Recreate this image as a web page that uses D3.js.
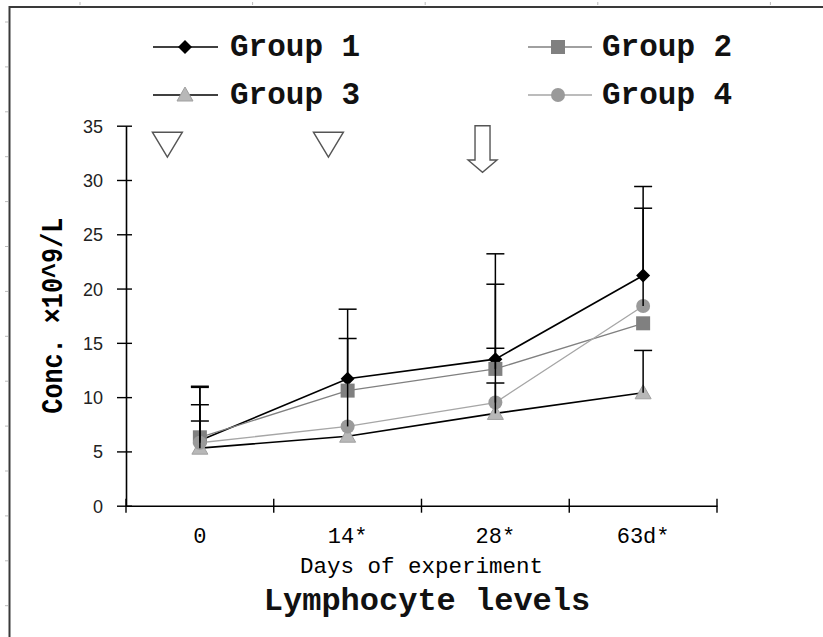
<!DOCTYPE html>
<html>
<head>
<meta charset="utf-8">
<script src="https://cdn.jsdelivr.net/npm/d3@7"></script>
<style>
  html, body { margin: 0; padding: 0; background: #fff; }
  svg { display: block; }
</style>
</head>
<body>
<svg id="chart" width="823" height="637"></svg>
<script>
// ---- data ----
const days = ["0", "14*", "28*", "63d*"];
const groupNames = ["Group 1", "Group 2", "Group 3", "Group 4"];
const group1 = [6.0, 11.7, 13.5, 21.2];
const group2 = [6.3, 10.6, 12.6, 16.8];
const group3 = [5.3, 6.4, 8.5, 10.4];
const group4 = [5.8, 7.3, 9.5, 18.4];
// upper ends of the error bars (null = none drawn)
const err1 = [10.9, 18.1, 23.2, 29.4];
const err2 = [11.0, null, 20.4, null];
const err3 = [7.8, null, 11.3, 14.3];
const err4 = [9.3, 15.4, 14.5, 27.4];
const yTicks = [0, 5, 10, 15, 20, 25, 30, 35];
const xTitle = "Days of experiment";
const yTitle = "Conc. \u00d710^9/L";
const chartTitle = "Lymphocyte levels";
// treatment markers above the plot (category, offset in band units)
const annotations = [
  { day: "0", offset: -0.22, kind: "tri" },
  { day: "14*", offset: -0.13, kind: "tri" },
  { day: "28*", offset: -0.087, kind: "arrow" }
];

const seriesValues = [group1, group2, group3, group4];
const seriesErr = [err1, err2, err3, err4];
const styles = [
  { line: "#000", lw: 1.6, shape: "diamond", fill: "#000" },
  { line: "#808080", lw: 1.3, shape: "square", fill: "#808080" },
  { line: "#000", lw: 1.6, shape: "triangle", fill: "#b8b8b8" },
  { line: "#a6a6a6", lw: 1.3, shape: "circle", fill: "#9a9a9a" }
];

const svg = d3.select("#chart");

// ---- frame (cropped screenshot border) ----
const frame = svg.append("g");
frame.append("path").attr("d", "M9.5,637 V7 H823").attr("fill", "none")
  .attr("stroke", "#3a3a3a").attr("stroke-width", 2);
d3.range(22, 637, 44.9).forEach(v => frame.append("line")
  .attr("x1", 5).attr("x2", 8).attr("y1", v).attr("y2", v)
  .attr("stroke", "#bbb").attr("stroke-width", 1));
d3.range(80, 823, 172.6).forEach(v => frame.append("line")
  .attr("x1", v).attr("x2", v).attr("y1", 2).attr("y2", 5)
  .attr("stroke", "#bbb").attr("stroke-width", 1));

// ---- scales ----
const plotL = 126, plotR = 717, plotT = 125.7, plotB = 505.7;
const x = d3.scaleBand().domain(days).range([plotL, plotR]).paddingInner(0).paddingOuter(0);
const y = d3.scaleLinear().domain([0, 35]).range([plotB, plotT]);
const cx = d => x(d) + x.bandwidth() / 2;

// ---- y axis ----
const yAxis = svg.append("g").attr("transform", `translate(${plotL},0)`)
  .call(d3.axisLeft(y).tickValues(yTicks).tickSize(9).tickPadding(14).tickSizeOuter(0));
yAxis.select(".domain").attr("stroke", "#000").attr("stroke-width", 1.6);
yAxis.selectAll(".tick line").attr("x1", 6).attr("stroke", "#000").attr("stroke-width", 1.4);
yAxis.selectAll(".tick text").attr("font-family", "'Liberation Sans', Arial, sans-serif")
  .attr("font-size", 18).attr("fill", "#222").attr("dy", "0.36em");

// ---- x axis ----
const xAxis = svg.append("g").attr("transform", `translate(0,${plotB})`)
  .call(d3.axisBottom(x).tickSize(0).tickPadding(0).tickSizeOuter(0));
xAxis.select(".domain").attr("stroke", "#000").attr("stroke-width", 1.6);
xAxis.selectAll(".tick line").remove();
xAxis.selectAll(".tick text").attr("font-family", "'Liberation Mono', monospace")
  .attr("font-size", 22).attr("fill", "#000").attr("dy", 0).attr("y", 37);
const bounds = days.map(d => x(d)).concat([x.range()[1]]);
xAxis.selectAll("line.bound").data(bounds).enter().append("line").attr("class", "bound")
  .attr("x1", d => d).attr("x2", d => d).attr("y1", -7).attr("y2", 7)
  .attr("stroke", "#000").attr("stroke-width", 1.4);

// ---- titles ----
svg.append("text").attr("x", (plotL + plotR) / 2).attr("y", 573).attr("text-anchor", "middle")
  .attr("font-family", "'Liberation Mono', monospace").attr("font-size", 22.5).attr("fill", "#000")
  .text(xTitle);
svg.append("text").attr("transform", `translate(62,${(plotT + plotB) / 2}) rotate(-90)`)
  .attr("text-anchor", "middle").attr("font-family", "'Liberation Mono', monospace")
  .attr("font-weight", "bold").attr("font-size", 30).attr("textLength", 196)
  .attr("lengthAdjust", "spacingAndGlyphs").attr("fill", "#000").text(yTitle);
svg.append("text").attr("x", 427).attr("y", 610).attr("text-anchor", "middle")
  .attr("font-family", "'Liberation Mono', monospace").attr("font-weight", "bold")
  .attr("font-size", 32).attr("fill", "#111").text(chartTitle);

// ---- annotations ----
const ann = svg.append("g");
annotations.forEach(a => {
  const ax = cx(a.day) + a.offset * x.step();
  if (a.kind === "tri") {
    const t = y(34.4), b = y(32.1);
    ann.append("path").attr("d", `M${ax - 15},${t} L${ax + 15},${t} L${ax},${b} Z`)
      .attr("fill", "#fff").attr("stroke", "#555").attr("stroke-width", 1.4);
  } else {
    const t = y(35), m = y(31.84), b = y(30.7);
    ann.append("path").attr("d",
      `M${ax - 7.5},${t} H${ax + 7.5} V${m} H${ax + 14.5} L${ax},${b} L${ax - 14.5},${m} H${ax - 7.5} Z`)
      .attr("fill", "#fff").attr("stroke", "#555").attr("stroke-width", 1.4);
  }
});

// ---- markers ----
function drawMarker(g, shape, px, py, fill) {
  if (shape === "diamond") {
    g.append("path").attr("d", `M${px},${py - 7} L${px + 7},${py} L${px},${py + 7} L${px - 7},${py} Z`).attr("fill", fill);
  } else if (shape === "square") {
    g.append("rect").attr("x", px - 7).attr("y", py - 7).attr("width", 14).attr("height", 14).attr("fill", fill);
  } else if (shape === "triangle") {
    g.append("path").attr("d", `M${px},${py - 8} L${px + 8},${py + 6} L${px - 8},${py + 6} Z`)
      .attr("fill", fill).attr("stroke", "#a0a0a0").attr("stroke-width", 1);
  } else {
    g.append("circle").attr("cx", px).attr("cy", py).attr("r", 7).attr("fill", fill);
  }
}

// ---- series lines ----
const lineGen = d3.line().x((d, i) => cx(days[i])).y(d => y(d));
const linesG = svg.append("g");
seriesValues.forEach((vals, s) => {
  linesG.append("path").datum(vals).attr("d", lineGen).attr("fill", "none")
    .attr("stroke", styles[s].line).attr("stroke-width", styles[s].lw);
});

// ---- markers ----
const markG = svg.append("g");
seriesValues.forEach((vals, s) => {
  vals.forEach((v, i) => drawMarker(markG, styles[s].shape, cx(days[i]), y(v), styles[s].fill));
});

// ---- error bars ----
const errG = svg.append("g");
seriesValues.forEach((vals, s) => {
  vals.forEach((v, i) => {
    const e = seriesErr[s][i];
    if (e == null) return;
    const px = cx(days[i]);
    errG.append("line").attr("x1", px).attr("x2", px).attr("y1", y(v)).attr("y2", y(e))
      .attr("stroke", "#000").attr("stroke-width", 1.5);
    errG.append("line").attr("x1", px - 9).attr("x2", px + 9).attr("y1", y(e)).attr("y2", y(e))
      .attr("stroke", "#000").attr("stroke-width", 1.5);
  });
});

// ---- legend ----
const legendPos = [
  { lx: 153, rx: 218, mx: 185, tx: 230, ly: 47 },
  { lx: 528, rx: 592, mx: 558, tx: 602, ly: 47 },
  { lx: 153, rx: 218, mx: 185, tx: 230, ly: 95 },
  { lx: 528, rx: 592, mx: 558, tx: 602, ly: 95 }
];
const legG = svg.append("g");
groupNames.forEach((name, s) => {
  const p = legendPos[s];
  legG.append("line").attr("x1", p.lx).attr("x2", p.rx).attr("y1", p.ly).attr("y2", p.ly)
    .attr("stroke", styles[s].line).attr("stroke-width", styles[s].lw);
  drawMarker(legG, styles[s].shape, p.mx, p.ly, styles[s].fill);
  legG.append("text").attr("x", p.tx).attr("y", p.ly + 9)
    .attr("font-family", "'Liberation Mono', monospace").attr("font-weight", "bold")
    .attr("font-size", 31).attr("fill", "#111").text(name);
});
</script>
</body>
</html>
